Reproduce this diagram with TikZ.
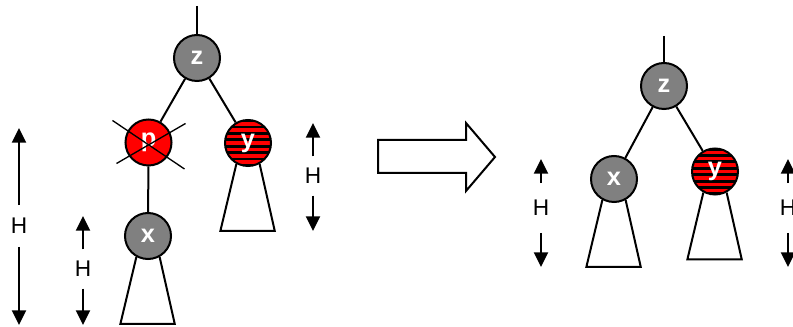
\documentclass[tikz,border=0pt]{standalone}
\usepackage{fontspec}
\setmainfont{Liberation Sans}
\usepackage{xcolor}
\usetikzlibrary{arrows.meta}

\definecolor{keygray}{RGB}{128,128,128}

% subtree hanging below a key
\newcommand{\subtri}[1]{\draw[tree] (#1.-119) -- ++(-16,67) -- ++(54.4,0) -- (#1.-61);}

\begin{document}
\begin{tikzpicture}[
            x=0.75pt, y=-0.75pt,
            key/.style={circle, draw=black, line width=1.5pt, minimum size=34.5pt, inner sep=0pt, text=white, font=\fontsize{19}{19}\selectfont\bfseries},
            black key/.style={key, fill=keygray},
            red key/.style={key, fill=red},
            striped key/.style={key, fill=red, path picture={
                \foreach \k in {-3.5,-2.5,...,3.5}
                    \fill[black] ([yshift=\k*4.8pt-1.1pt, xshift=-3pt]path picture bounding box.west) rectangle ++(42pt,2.2pt);}},
            branch/.style={line width=1.5pt},
            tree/.style={line width=1.5pt},
            height/.style={line width=1.5pt, -{Triangle[length=11pt,width=10.5pt]}},
            hlabel/.style={font=\fontsize{17}{17}\selectfont, inner sep=0pt, minimum height=29pt},
            cross/.style={line width=1pt}
        ]
        \useasboundingbox (0,0) rectangle (793,327);
        \clip (0,0) rectangle (793,327);

        % before: p is removed
        \node[black key] (z) at (197,58) {z};
        \node[red key] (p) at (148.5,142.5) {p};
        \node[striped key] (y) at (248,143) {y};
        \node[black key] (x) at (148,236) {x};
        \coordinate (ztop) at (197,6);

        \draw[branch] (ztop) -- (z);
        \draw[branch] (z) -- (p);
        \draw[branch] (z) -- (y);
        \draw[branch] (p) -- (x);
        \subtri{x}
        \subtri{y}

        \draw[cross] (p) ++(-36,-22) -- ++(72,48.5);
        \draw[cross] (p) ++(-32,21) -- ++(69,-40);

        \node[hlabel, minimum height=31pt] (h1) at (19,226) {H};
        \coordinate (h1t) at (19,128);
        \coordinate (h1b) at (19,325);
        \node[hlabel] (h2) at (83,269) {H};
        \coordinate (h2t) at (83,216);
        \coordinate (h2b) at (83,325);
        \node[hlabel] (h3) at (313,176) {H};
        \coordinate (h3t) at (313,123);
        \coordinate (h3b) at (313,231);

        % big hollow arrow
        \draw[line width=1.5pt] (378,140) -- (466,140) -- (466,123) -- (495,157)
            -- (466,191) -- (466,173) -- (378,173) -- cycle;

        % after: x takes its place
        \node[black key] (rz) at (664,86) {z};
        \node[black key] (rx) at (614,179) {x};
        \node[striped key] (ry) at (715,171.5) {y};
        \coordinate (rztop) at (664,36);

        \draw[branch] (rztop) -- (rz);
        \draw[branch] (rz) -- (rx);
        \draw[branch] (rz) -- (ry);
        \subtri{rx}
        \subtri{ry}

        \node[hlabel, minimum height=37pt] (h4) at (541,208) {H};
        \coordinate (h4t) at (541,159);
        \coordinate (h4b) at (541,267);
        \node[hlabel, minimum height=37pt] (h5) at (788,208) {H};
        \coordinate (h5t) at (788,159);
        \coordinate (h5b) at (788,267);

        \foreach \h in {h1,h2,h3,h4,h5} {
            \draw[height] (\h) -- (\h t);
            \draw[height] (\h) -- (\h b);
        }

    \end{tikzpicture}
\end{document}
